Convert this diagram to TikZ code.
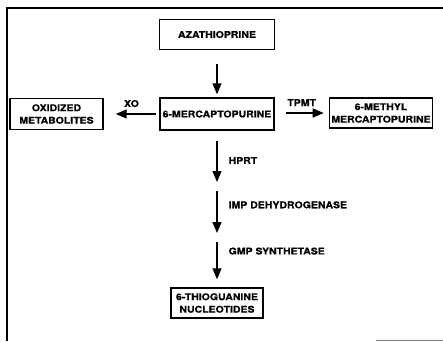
\documentclass[tikz,border=0pt]{standalone}
\usepackage{fontspec}
\setmainfont[FakeStretch=1.13, FakeBold=0.6]{TeX Gyre Heros}
\usetikzlibrary{arrows.meta, positioning}

\begin{document}
\begin{tikzpicture}[
            x=1pt, y=-1pt,
            font=\fontsize{9.3}{12.5}\selectfont\bfseries,
            box/.style={
                draw,
                line width=1.4pt,
                align=center,
                inner sep=2pt,
                minimum height=30pt
            },
            every edge/.style={
                draw,
                line width=1.3pt,
                -{Triangle[length=11pt, width=9pt]} % filled heads as in the scan
            },
            enzyme/.style={anchor=west, xshift=11pt, inner sep=0pt}
        ]
        \useasboundingbox (0,0) rectangle (443,341);
        % page frame
        \draw[line width=1.4pt] (7,341) -- (7,8) -- (443,8);
        \draw[gray, line width=0.8pt] (376,340) -- (443,340);

        \node[box, minimum width=115pt] (aza) at (217,34.5) {AZATHIOPRINE};
        \node[box, minimum width=114pt, minimum height=32pt] (mp) at (217,114) {6-MERCAPTOPURINE};
        \node[box, minimum width=93pt, minimum height=31pt] (oxi) at (56.5,114) {OXIDIZED\\METABOLITES};
        \node[box, minimum width=102pt] (meth) at (381,113) {6-METHYL\\MERCAPTOPURINE};
        \node[box, minimum width=92pt] (tgn) at (217,303) {6-THIOGUANINE\\NUCLEOTIDES};

        \coordinate (c1) at (217,182);
        \coordinate (c2) at (217,191);
        \coordinate (c3) at (217,233);
        \coordinate (c4) at (217,242);

        \path
            (aza) edge [shorten <=13.5pt, shorten >=3pt] (mp)
            (mp.west) edge [shorten <=3pt, shorten >=12pt] node[above=3pt] {XO} (oxi.east)
            (mp.east |- meth.west) edge [shorten <=11pt, shorten >=5pt] node[above=3pt] {TPMT} (meth.west)
            (mp.south) edge [shorten <=10pt] node[enzyme, pos=0.58] {HPRT} (c1)
            (c2) edge node[enzyme, pos=0.33] {IMP DEHYDROGENASE} (c3)
            (c4) edge [shorten >=8pt] node[enzyme, pos=0.2] {GMP SYNTHETASE} (tgn);
    \end{tikzpicture}
\end{document}
